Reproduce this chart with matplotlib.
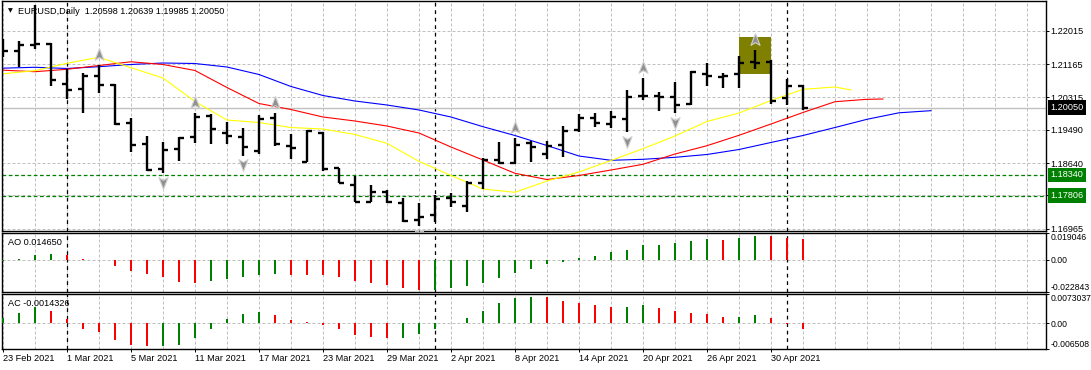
import numpy as np
import matplotlib
matplotlib.use("Agg")
import matplotlib.pyplot as plt
from matplotlib.patches import Rectangle
from matplotlib.path import Path
from matplotlib.transforms import offset_copy

plt.rcParams["font.family"] = ["Liberation Sans", "DejaVu Sans"]
FS = 6.6
FS_OSC = 6.2

TITLE = "EURUSD,Daily"

date_labels = ["23 Feb 2021", "1 Mar 2021", "5 Mar 2021", "11 Mar 2021", "17 Mar 2021",
               "23 Mar 2021", "29 Mar 2021", "2 Apr 2021", "8 Apr 2021", "14 Apr 2021",
               "20 Apr 2021", "26 Apr 2021", "30 Apr 2021"]
LABEL_EVERY = 4
month_starts = [4, 27, 49]  # 1 Mar, 1 Apr, 3 May

opens = [1.21607, 1.21505, 1.21660, 1.21670, 1.20655, 1.20519, 1.20859, 1.20621, 1.19652, 1.19125,
         1.18479, 1.18989, 1.19312, 1.19847, 1.19397, 1.19312, 1.18946, 1.19779, 1.19074, 1.18666,
         1.19414, 1.18504, 1.18079, 1.17654, 1.17892, 1.17612, 1.17187, 1.17314, 1.17756, 1.17552,
         1.18139, 1.18717, 1.18632, 1.19142, 1.18870, 1.19108, 1.19482, 1.19779, 1.19626, 1.19754,
         1.20357, 1.20340, 1.20332, 1.20145, 1.20918, 1.20842, 1.20918, 1.21224, 1.21224, 1.20306,
         1.20598]
highs = [1.21794, 1.21743, 1.22670, 1.21692, 1.21029, 1.20944, 1.21131, 1.20655, 1.19796, 1.19329,
         1.19184, 1.19312, 1.19907, 1.19890, 1.19677, 1.19541, 1.19864, 1.19907, 1.19371, 1.19482,
         1.19431, 1.18521, 1.18317, 1.18079, 1.17952, 1.17739, 1.17612, 1.17824, 1.17867, 1.18190,
         1.18776, 1.19167, 1.19286, 1.19210, 1.19193, 1.19584, 1.19881, 1.19924, 1.19966, 1.20502,
         1.20799, 1.20459, 1.20714, 1.20995, 1.21199, 1.20944, 1.21369, 1.21522, 1.21267, 1.20774,
         1.20639]
lows = [1.21352, 1.21097, 1.21539, 1.20604, 1.20272, 1.19924, 1.20434, 1.19609, 1.18929, 1.18445,
        1.18377, 1.18700, 1.19159, 1.19116, 1.19116, 1.18827, 1.18861, 1.19074, 1.18751, 1.18660,
        1.18436, 1.18122, 1.17637, 1.17637, 1.17612, 1.17144, 1.17042, 1.17144, 1.17510, 1.17382,
        1.17969, 1.18615, 1.18615, 1.18674, 1.18734, 1.18785, 1.19422, 1.19567, 1.19524, 1.19422,
        1.20247, 1.19975, 1.19907, 1.20119, 1.20612, 1.20561, 1.20561, 1.21029, 1.20153, 1.20111,
        1.19985]
closes = [1.21505, 1.21649, 1.21672, 1.20748, 1.20502, 1.20859, 1.20638, 1.19626, 1.19108, 1.18462,
          1.18972, 1.19286, 1.19805, 1.19499, 1.19329, 1.19048, 1.19754, 1.19125, 1.19031, 1.19465,
          1.18479, 1.18139, 1.17654, 1.17909, 1.17654, 1.17170, 1.17272, 1.17731, 1.17646, 1.18122,
          1.18717, 1.18632, 1.19108, 1.19040, 1.19074, 1.19456, 1.19779, 1.19669, 1.19805, 1.20332,
          1.20349, 1.20332, 1.20119, 1.20952, 1.20859, 1.20867, 1.21199, 1.21199, 1.20230, 1.20612,
          1.20050]

fractal_up = [2, 6, 12, 17, 32, 40, 47]
fractal_down = [10, 15, 26, 39, 42]

# alligator lines, read every second bar; they are shifted past the last bar
jaw_bars = list(range(0, 59, 2))
jaw = [1.21059, 1.21082, 1.21051, 1.21097, 1.21153, 1.21191, 1.21178, 1.21089, 1.20898, 1.20592,
       1.20362, 1.20222, 1.20120, 1.19993, 1.19814, 1.19567, 1.19342, 1.19087, 1.18819, 1.18710,
       1.18735, 1.18786, 1.18858, 1.18985, 1.19164, 1.19342, 1.19546, 1.19755, 1.19921, 1.19975]
teeth_bars = list(range(0, 55, 2)) + [55]
teeth = [1.21008, 1.20969, 1.21031, 1.21127, 1.21222, 1.21153, 1.21000, 1.20566, 1.20158, 1.20005,
         1.19814, 1.19712, 1.19584, 1.19406, 1.19049, 1.18717, 1.18378, 1.18220, 1.18322, 1.18462,
         1.18608, 1.18870, 1.19082, 1.19347, 1.19635, 1.19929, 1.20204, 1.20265, 1.20273]
lips_bars = list(range(0, 53, 2)) + [53]
lips = [1.20916, 1.20995, 1.21184, 1.21337, 1.21071, 1.20809, 1.20209, 1.19737, 1.19674, 1.19546,
        1.19508, 1.19368, 1.19143, 1.18684, 1.18322, 1.17978, 1.17894, 1.18182, 1.18411, 1.18705,
        1.19006, 1.19329, 1.19699, 1.19916, 1.20235, 1.20520, 1.20579, 1.20503]

ao = [-0.0010, 0.0004, 0.0034, 0.0041, 0.0033, 0.0007, 0.0002, -0.0041, -0.0077, -0.0103,
      -0.0125, -0.0156, -0.0163, -0.0154, -0.0134, -0.0125, -0.0110, -0.0103, -0.0110, -0.0111,
      -0.0112, -0.0125, -0.0154, -0.0166, -0.0182, -0.0204, -0.0214, -0.0213, -0.0204, -0.0190,
      -0.0168, -0.0132, -0.0096, -0.0067, -0.0031, -0.0012, 0.0014, 0.0031, 0.0053, 0.0074,
      0.0103, 0.0110, 0.0118, 0.0132, 0.0146, 0.0145, 0.0154, 0.0171, 0.0170, 0.0154,
      0.014650]
ac = [0.00126, 0.00261, 0.00404, 0.00312, 0.00109, -0.00135, -0.00211, -0.00421, -0.00556, -0.00573,
      -0.00564, -0.00539, -0.00370, -0.00135, 0.00109, 0.00236, 0.00286, 0.00211, 0.00093, 0.00025,
      -0.00042, -0.00135, -0.00295, -0.00345, -0.00379, -0.00370, -0.00269, -0.00143, 0.00017, 0.00135,
      0.00312, 0.00514, 0.00640, 0.00665, 0.00657, 0.00564, 0.00514, 0.00463, 0.00413, 0.00421,
      0.00463, 0.00387, 0.00312, 0.00261, 0.00236, 0.00160, 0.00168, 0.00211, 0.00135, -0.00025,
      -0.0014326]

price_levels = [1.22015, 1.21165, 1.20315, 1.19490, 1.18640, 1.17815, 1.16965]
price_range = (1.16907, 1.22772)
bid = 1.20050
green_levels = [1.18340, 1.17806]
highlight_bars = (46, 48)
highlight_prices = (1.20911, 1.21854)

ao_range = (-0.022843, 0.019046)
ac_range = (-0.006508, 0.0073037)
ao_labels = ["-0.022843", "0.00", "0.019046"]
ac_labels = ["-0.006508", "0.00", "0.0073037"]

X_RANGE = (-0.06, 65.19)
W, H = 1091, 370
GRID = "#c0c0c0"
UP_GREEN = "#008000"
DOWN_RED = "#ff0000"


def px_rect(left, top, right, bottom):
    return [left / W, 1 - bottom / H, (right - left) / W, (bottom - top) / H]


def arrow(direction):
    pts = [(0, 1), (0.65, -0.7), (0, -0.3), (-0.65, -0.7), (0, 1)]
    pts = [(x, y * direction) for x, y in pts]
    return Path(pts, [Path.MOVETO, Path.LINETO, Path.LINETO, Path.LINETO, Path.CLOSEPOLY])


def setup_panel(ax, label_size):
    ax.set_xlim(*X_RANGE)
    for s in ax.spines.values():
        s.set_color("black")
        s.set_linewidth(1.0)
    ax.set_xticks(np.arange(0, 66, 2), minor=True)
    ax.xaxis.remove_overlapping_locs = False
    ax.grid(which="minor", axis="x", color=GRID, linestyle=(0, (3, 2)), linewidth=0.72)
    ax.tick_params(axis="x", which="both", bottom=False, top=False, labelbottom=False)
    ax.yaxis.tick_right()
    ax.tick_params(axis="y", which="major", right=True, left=False, length=2.2, width=0.7,
                   pad=1.0, labelsize=label_size, colors="black")
    for m in month_starts:
        ax.axvline(m, color="black", linestyle=(0, (3, 3)), linewidth=0.9, zorder=1.5)
    ax.set_axisbelow(True)


def oscillator(ax, values, rng, labels, name):
    setup_panel(ax, FS_OSC)
    vals = np.array(values)
    colors = [UP_GREEN] + [UP_GREEN if v > p else DOWN_RED for p, v in zip(vals[:-1], vals[1:])]
    ax.bar(np.arange(len(vals)), vals, width=0.17, color=colors, zorder=3)
    ax.set_ylim(*rng)
    ax.set_yticks([rng[0], 0, rng[1]])
    ax.set_yticklabels(labels)
    tl = ax.get_yticklabels()
    tl[0].set_va("bottom")
    tl[2].set_va("top")
    ax.axhline(0, color=GRID, linestyle=(0, (3, 2)), linewidth=0.72, zorder=1)
    last = values[-1]
    txt = f"{name} {last:.6f}" if name == "AO" else f"{name} {last:.7f}"
    ax.text(0.0057, 0.84, txt, transform=ax.transAxes, fontsize=FS, va="center", ha="left")


fig = plt.figure(figsize=(W / 100, H / 100), dpi=100)
fig.patch.set_facecolor("white")

ax = fig.add_axes(px_rect(2, 1, 1046, 231))
ax_ao = fig.add_axes(px_rect(2, 233.3, 1046, 291.7))
ax_ac = fig.add_axes(px_rect(2, 294.3, 1046, 349))

# price window
setup_panel(ax, FS)
ax.set_ylim(*price_range)
ax.set_yticks(price_levels)
ax.set_yticklabels([f"{p:.5f}" for p in price_levels])
ax.grid(which="major", axis="y", color=GRID, linestyle=(0, (3, 2)), linewidth=0.72)

ax.add_patch(Rectangle((highlight_bars[0], highlight_prices[0]),
                       highlight_bars[1] - highlight_bars[0],
                       highlight_prices[1] - highlight_prices[0],
                       facecolor="#808000", edgecolor="none", zorder=1.8))

ax.axhline(bid, color=GRID, linewidth=1.0, zorder=1.6)
for lvl in green_levels:
    ax.axhline(lvl, color=UP_GREEN, linestyle=(0, (3, 2)), linewidth=0.9, zorder=1.7)

ax.plot(jaw_bars, jaw, color="#0000ff", linewidth=0.8, zorder=2)
ax.plot(teeth_bars, teeth, color="#ff0000", linewidth=0.8, zorder=2)
ax.plot(lips_bars, lips, color="#ffff00", linewidth=0.8, zorder=2)

idx = np.arange(len(opens))
ax.vlines(idx, lows, highs, color="black", linewidth=1.7, zorder=3)
ax.hlines(opens, idx - 0.3, idx, color="black", linewidth=1.7, zorder=3)
ax.hlines(closes, idx, idx + 0.3, color="black", linewidth=1.7, zorder=3)

up_tr = offset_copy(ax.transData, fig=fig, x=0, y=7.2, units="points")
dn_tr = offset_copy(ax.transData, fig=fig, x=0, y=-6.0, units="points")
ax.plot(fractal_up, [highs[i] for i in fractal_up], linestyle="none", marker=arrow(1),
        markersize=10, markerfacecolor="#909090", markeredgecolor="#d0d0d0",
        markeredgewidth=0.8, transform=up_tr, zorder=4)
ax.plot(fractal_down, [lows[i] for i in fractal_down], linestyle="none", marker=arrow(-1),
        markersize=10, markerfacecolor="#909090", markeredgecolor="#d0d0d0",
        markeredgewidth=0.8, transform=dn_tr, zorder=4)

# price tags on the right scale
ytr = ax.get_yaxis_transform()
tags = [(bid, "black")] + [(lvl, UP_GREEN) for lvl in green_levels]
for lvl, col in tags:
    ax.annotate(f"{lvl:.5f}", xy=(1, lvl), xycoords=ytr, xytext=(3.2, 0),
                textcoords="offset points", ha="left", va="center", fontsize=FS,
                color="white", annotation_clip=False, zorder=10,
                bbox=dict(boxstyle="square,pad=0.3", facecolor=col, edgecolor="none"))

ax.text(0.0077, 0.9565, "\u25bc", transform=ax.transAxes, fontsize=4.5, va="center",
        ha="center", family=["DejaVu Sans"])
title = f"{TITLE}  {opens[-1]:.5f} {highs[-1]:.5f} {lows[-1]:.5f} {closes[-1]:.5f}"
ax.text(0.0153, 0.9565, title, transform=ax.transAxes, fontsize=FS, va="center", ha="left")

oscillator(ax_ao, ao, ao_range, ao_labels, "AO")
oscillator(ax_ac, ac, ac_range, ac_labels, "AC")

ax_ac.set_xticks(np.arange(0, len(date_labels) * LABEL_EVERY, LABEL_EVERY))
ax_ac.set_xticklabels(date_labels, ha="left")
ax_ac.tick_params(axis="x", which="major", bottom=True, labelbottom=True, length=2.5,
                  width=0.7, pad=1.0, labelsize=FS)

fig.savefig("out.png", dpi=100)
